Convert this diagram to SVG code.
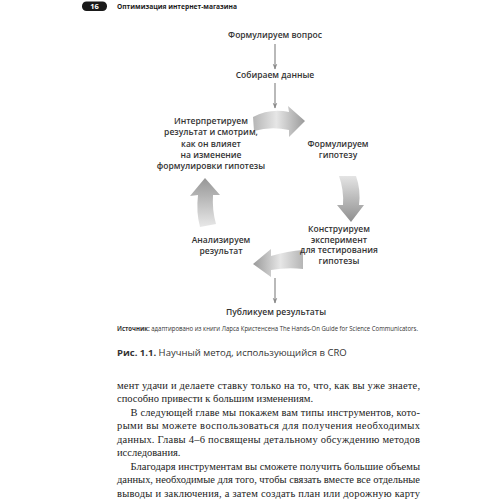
<svg xmlns="http://www.w3.org/2000/svg" width="500" height="500" viewBox="0 0 500 500">
<style>
.lbl{font-family:"Open Sans","Noto Sans",sans-serif;font-weight:600;font-size:8.5px;fill:#333;text-anchor:middle}
.hd{font-family:"Open Sans","Noto Sans",sans-serif;font-weight:700;font-size:7.5px;fill:#1a1a1a}
.src{font-family:"Open Sans","Noto Sans",sans-serif;font-size:6.3px;fill:#333}
.cap{font-family:"Open Sans","Noto Sans",sans-serif;font-size:9.5px;fill:#333}
.body{font-family:"Liberation Serif","Times New Roman",serif;font-size:10.5px;fill:#222}
.conn{stroke:#8a8a8a;stroke-width:1.2;fill:none;marker-end:url(#ah)}
.big{stroke:none}
</style>
<defs>
<marker id="ah" viewBox="0 0 10 10" refX="9" refY="5" markerWidth="6" markerHeight="8" orient="auto" markerUnits="userSpaceOnUse">
<path d="M0,1 L10,5 L0,9 L3,5 Z" fill="#8a8a8a"/>
</marker>
<linearGradient id="gR" x1="0" y1="0" x2="1" y2="0">
<stop offset="0" stop-color="#b5b5b5"/><stop offset="0.45" stop-color="#e6e6e6"/><stop offset="1" stop-color="#9a9a9a"/>
</linearGradient>
<linearGradient id="gD" x1="0" y1="0" x2="0" y2="1">
<stop offset="0" stop-color="#e4e4e4"/><stop offset="1" stop-color="#8f8f8f"/>
</linearGradient>
<linearGradient id="gL" x1="1" y1="0" x2="0" y2="0">
<stop offset="0" stop-color="#b5b5b5"/><stop offset="0.45" stop-color="#e6e6e6"/><stop offset="1" stop-color="#9a9a9a"/>
</linearGradient>
<linearGradient id="gU" x1="0" y1="1" x2="0" y2="0">
<stop offset="0" stop-color="#e8e8e8"/><stop offset="1" stop-color="#969696"/>
</linearGradient>
</defs>

<g id="header">
<rect x="82" y="1.5" width="25" height="9.5" rx="4.5" fill="#1a1a1a"/>
<text x="94.5" y="9.3" font-family="Open Sans, sans-serif" font-weight="700" font-size="7.5" fill="#fff" text-anchor="middle">16</text>
<text class="hd" x="117" y="9" textLength="120" lengthAdjust="spacingAndGlyphs">Оптимизация интернет-магазина</text>
</g>

<g id="connectors">
<line class="conn" x1="275" y1="44" x2="275" y2="69"/>
<line class="conn" x1="275" y1="83" x2="275" y2="108"/>
<line class="conn" x1="275" y1="278" x2="275" y2="303"/>
<path class="big" fill="url(#gR)" d="M253,117 Q270,108 289,112 L288,106 L305,121 L289,137 L289,130 Q271,126 254,131 Z"/>
<path class="big" fill="url(#gD)" d="M339,176 L356,176 Q361,190 359,205 L364,205 L351,222 L337,205 L343,205 Q344,190 339,176 Z"/>
<path class="big" fill="url(#gL)" d="M303,250 Q288,251 271,256 L271,249 L253,264 L271,277 L271,270 Q288,267 303,269 Z"/>
<path class="big" fill="url(#gU)" d="M200,227 Q196,212 198,195 L190,196 L205,178 L220,195 L213,195 Q212,210 216,224 Z"/>
</g>

<g id="n1"><text class="lbl" x="275" y="38">Формулируем вопрос</text></g>
<g id="n2"><text class="lbl" x="275" y="78">Собираем данные</text></g>
<g id="n3"><text class="lbl" x="338" y="147">Формулируем</text><text class="lbl" x="338" y="157.5">гипотезу</text></g>
<g id="n4"><text class="lbl" x="339" y="232">Конструируем</text><text class="lbl" x="339" y="242.5">эксперимент</text><text class="lbl" x="339" y="253">для тестирования</text><text class="lbl" x="339" y="263.5">гипотезы</text></g>
<g id="n5"><text class="lbl" x="221" y="243">Анализируем</text><text class="lbl" x="221" y="253.5">результат</text></g>
<g id="n6"><text class="lbl" x="211" y="124">Интерпретируем</text><text class="lbl" x="211" y="135.3">результат и смотрим,</text><text class="lbl" x="211" y="146.5">как он влияет</text><text class="lbl" x="211" y="157.8">на изменение</text><text class="lbl" x="211" y="169">формулировки гипотезы</text></g>
<g id="n7"><text class="lbl" x="276" y="315" font-size="9" font-weight="500">Публикуем результаты</text></g>

<g id="caption">
<text class="src" x="117" y="331" textLength="301" lengthAdjust="spacingAndGlyphs"><tspan font-weight="700">Источник:</tspan> адаптировано из книги Ларса Кристенсена The Hands-On Guide for Science Communicators.</text>
<text class="cap" x="117" y="356"><tspan font-weight="700">Рис. 1.1.</tspan> Научный метод, использующийся в CRO</text>
</g>

<g id="bodytext">
<text class="body" x="117" y="388.5" textLength="303" lengthAdjust="spacing">мент удачи и делаете ставку только на то, что, как вы уже знаете,</text>
<text class="body" x="117" y="402">способно привести к большим изменениям.</text>
<text class="body" x="130.5" y="415.5" textLength="289.5" lengthAdjust="spacing">В следующей главе мы покажем вам типы инструментов, кото-</text>
<text class="body" x="117" y="429" textLength="303" lengthAdjust="spacing">рыми вы можете воспользоваться для получения необходимых</text>
<text class="body" x="117" y="442.5" textLength="303" lengthAdjust="spacing">данных. Главы 4–6 посвящены детальному обсуждению методов</text>
<text class="body" x="117" y="456">исследования.</text>
<text class="body" x="130.5" y="469.5" textLength="289.5" lengthAdjust="spacing">Благодаря инструментам вы сможете получить большие объемы</text>
<text class="body" x="117" y="483" textLength="303" lengthAdjust="spacing">данных, необходимые для того, чтобы связать вместе все отдельные</text>
<text class="body" x="117" y="496.5" textLength="303" lengthAdjust="spacing">выводы и заключения, а затем создать план или дорожную карту</text>
</g>
</svg>
